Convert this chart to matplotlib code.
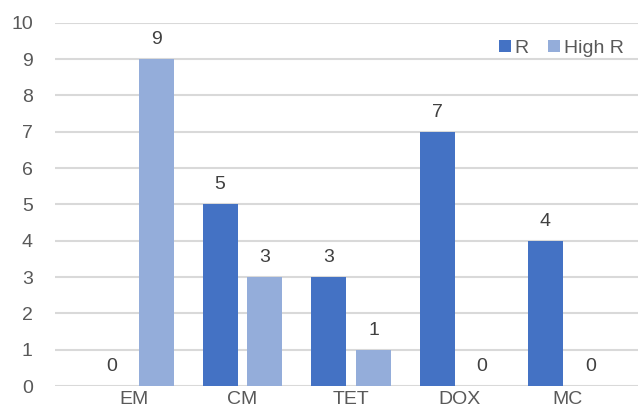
import matplotlib
matplotlib.use("Agg")
import matplotlib.pyplot as plt
import numpy as np

categories = ["EM", "CM", "TET", "DOX", "MC"]
r_values = [0, 5, 3, 7, 4]
high_r_values = [9, 3, 1, 0, 0]
series_names = ["R", "High R"]

plt.rcParams['font.family'] = ['Liberation Sans', 'DejaVu Sans']

W, H = 638, 411
fig = plt.figure(figsize=(W / 100, H / 100), dpi=100)
left_px, right_px, top_px, bottom_px = 55, 638, 22.7, 386
ax = fig.add_axes([left_px / W, 1 - bottom_px / H, (right_px - left_px) / W, (bottom_px - top_px) / H])

unit = 108.5
first_center = 134
xmin = -(first_center - left_px) / unit
xmax = (right_px - first_center) / unit
x = np.arange(len(categories))
bw = 35 / unit
off = 22.5 / unit

dark = "#4472C4"
light = "#94ADDA"
text_c = "#595959"
lab_c = "#404040"
fs = 14

b1 = ax.bar(x - off, r_values, bw, color=dark, label=series_names[0], zorder=3)
b2 = ax.bar(x + off, high_r_values, bw, color=light, label=series_names[1], zorder=3)

for bars, vals in ((b1, r_values), (b2, high_r_values)):
    for b, v in zip(bars, vals):
        ax.annotate(str(v), (b.get_x() + b.get_width() / 2, v), xytext=(0, 8),
                    textcoords="offset points", ha="center", va="bottom",
                    fontsize=fs, color=lab_c)

ax.set_xlim(xmin, xmax)
ax.set_ylim(0, 10)
ax.set_yticks(range(0, 11))
ax.set_xticks(x)
ax.set_xticklabels(categories)
ax.yaxis.grid(True, color="#D9D9D9", linewidth=1.5, zorder=0)
ax.set_axisbelow(True)
for s in ax.spines.values():
    s.set_visible(False)
ax.tick_params(axis="both", length=0, labelsize=fs, labelcolor=text_c)
ax.tick_params(axis="y", pad=16)
ax.tick_params(axis="x", pad=3.5)

leg = ax.legend(loc="upper right", bbox_to_anchor=(0.995, 0.985), ncol=2, frameon=False,
                fontsize=fs, handlelength=0.6, handleheight=0.6, handletextpad=0.2,
                columnspacing=1.0, borderaxespad=0.2)
for t in leg.get_texts():
    t.set_color(text_c)

fig.savefig("out.png", dpi=100)
